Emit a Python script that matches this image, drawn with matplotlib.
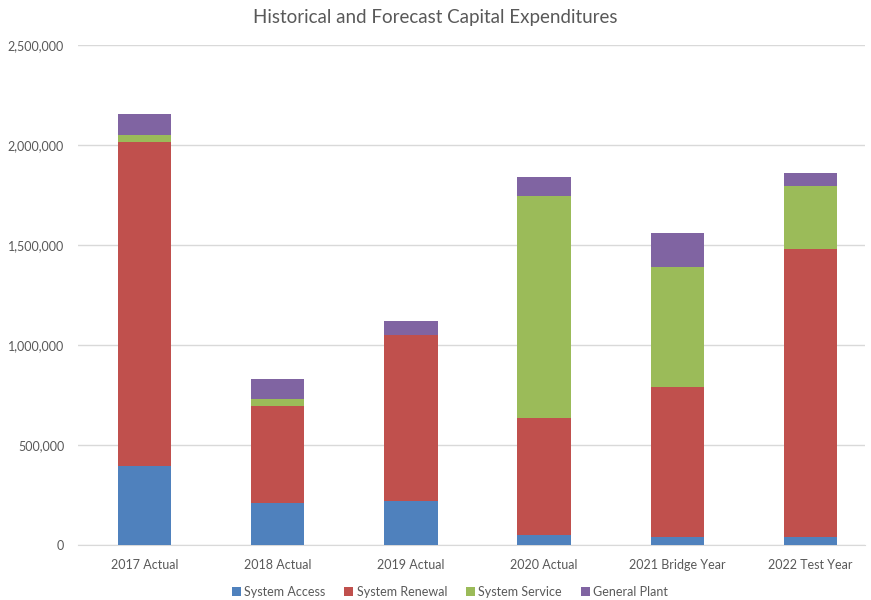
import matplotlib.pyplot as plt
import numpy as np
from matplotlib.ticker import FuncFormatter

plt.rcParams['font.family'] = ['Lato', 'DejaVu Sans']

years = ["2017 Actual", "2018 Actual", "2019 Actual", "2020 Actual", "2021 Bridge Year", "2022 Test Year"]
system_access = [396500, 211500, 218000, 48000, 40000, 40000]
system_renewal = [1618500, 483500, 830000, 588500, 750000, 1440000]
system_service = [35000, 36500, 2000, 1108500, 601500, 316500]
general_plant = [103500, 96500, 70000, 95000, 166500, 61500]

series = [
    ("System Access", system_access, "#4F81BD"),
    ("System Renewal", system_renewal, "#C0504D"),
    ("System Service", system_service, "#9BBB59"),
    ("General Plant", general_plant, "#8064A2"),
]

fig = plt.figure(figsize=(8.71, 6.00), dpi=100)
ax = fig.add_axes([78 / 871, 55 / 600, (865 - 78) / 871, 500 / 600])

x = np.arange(len(years))
bottom = np.zeros(len(years))
for name, vals, col in series:
    ax.bar(x, vals, 0.4, bottom=bottom, color=col, label=name, zorder=3)
    bottom += np.array(vals)

ax.set_ylim(0, 2500000)
ax.set_xlim(-0.499, 5.409)
ax.set_yticks(np.arange(0, 2500001, 500000))
ax.yaxis.set_major_formatter(FuncFormatter(lambda v, p: f"{int(v):,}"))
ax.set_xticks(x)
ax.set_xticklabels(years)
ax.grid(axis='y', color='#D9D9D9', linewidth=1, zorder=0)
for s in ['top', 'right', 'left']:
    ax.spines[s].set_visible(False)
ax.spines['bottom'].set_color('#D9D9D9')
ax.tick_params(axis='both', length=0, colors='#595959', labelsize=9)
ax.tick_params(axis='y', pad=10)
ax.tick_params(axis='x', pad=10)

fig.text(0.5, 1 - 17 / 600, "Historical and Forecast Capital Expenditures",
         ha='center', va='center', fontsize=13.5, color='#595959')

fig.legend(loc='center', bbox_to_anchor=(450 / 871, 1 - 592 / 600), ncol=4,
           frameon=False, fontsize=9, handlelength=0.7, handleheight=0.7,
           columnspacing=1.5, handletextpad=0.3, labelcolor='#595959')

fig.savefig("out.png", dpi=100)
